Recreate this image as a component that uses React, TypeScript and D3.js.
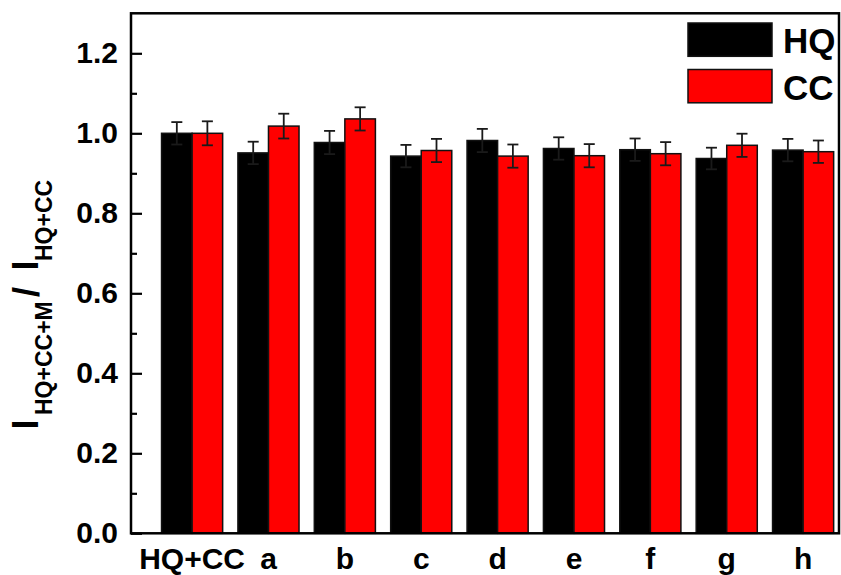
import React, { useEffect, useRef } from 'react';
import * as d3 from 'd3';

const categories = ['HQ+CC', 'a', 'b', 'c', 'd', 'e', 'f', 'g', 'h'];
const hqValues = [1.0, 0.951, 0.977, 0.943, 0.982, 0.962, 0.959, 0.937, 0.958];
const hqErrors = [0.028, 0.028, 0.029, 0.028, 0.029, 0.028, 0.028, 0.027, 0.028];
const ccValues = [1.0, 1.018, 1.036, 0.957, 0.943, 0.944, 0.949, 0.970, 0.954];
const ccErrors = [0.030, 0.031, 0.029, 0.029, 0.029, 0.029, 0.029, 0.029, 0.028];
const majorTicks = [0, 0.2, 0.4, 0.6, 0.8, 1.0, 1.2];
const minorTicks = [0.1, 0.3, 0.5, 0.7, 0.9, 1.1];

const series = [
    { name: 'HQ', values: hqValues, errors: hqErrors, color: '#000000', offset: -1 },
    { name: 'CC', values: ccValues, errors: ccErrors, color: '#ff0000', offset: 0 },
];

export default function App() {
    const svgRef = useRef<SVGSVGElement>(null);

    useEffect(() => {
        if (!svgRef.current) return;
        const svg = d3.select(svgRef.current);
        svg.selectAll('*').remove();

        const font = 'Arial, "Liberation Sans", sans-serif';
        const left = 131, right = 839, top = 13.3, bottom = 533.3;

        // category index -> px (Origin style, groups at 1..9)
        const x = d3.scaleLinear().domain([0.2, 9.47]).range([left, right]);
        const y = d3.scaleLinear().domain([0, 1.3]).range([bottom, top]);
        const barW = x(0.4) - x(0);

        // Bars
        series.forEach(s => {
            svg.append('g')
                .selectAll('rect')
                .data(s.values)
                .join('rect')
                .attr('x', (d, i) => x(i + 1) + s.offset * barW)
                .attr('y', d => y(d))
                .attr('width', barW)
                .attr('height', d => y(0) - y(d))
                .attr('fill', s.color)
                .attr('stroke', '#111')
                .attr('stroke-width', 1.5);
        });

        // Error bars
        series.forEach(s => {
            const g = svg.append('g').attr('stroke', '#1a1a1a').attr('stroke-width', 1.8);
            s.values.forEach((v, i) => {
                const cx = x(i + 1) + s.offset * barW + barW / 2;
                const e = s.errors[i];
                g.append('line').attr('x1', cx).attr('x2', cx).attr('y1', y(v - e)).attr('y2', y(v + e));
                [v - e, v + e].forEach(t => {
                    g.append('line').attr('x1', cx - 5.5).attr('x2', cx + 5.5).attr('y1', y(t)).attr('y2', y(t));
                });
            });
        });

        // Frame
        svg.append('rect')
            .attr('x', left).attr('y', top)
            .attr('width', right - left).attr('height', bottom - top)
            .attr('fill', 'none').attr('stroke', '#000').attr('stroke-width', 2.5);

        // Y axis, ticks pointing inward
        const yAxis = svg.append('g')
            .attr('transform', `translate(${left},0)`)
            .call(d3.axisLeft(y).tickValues(majorTicks).tickSize(-11).tickPadding(13).tickFormat(d3.format('.1f')));
        yAxis.select('.domain').remove();
        yAxis.selectAll('line').attr('stroke-width', 2.2);
        yAxis.selectAll('text')
            .attr('font-family', font).attr('font-size', 30).attr('font-weight', 'bold').attr('fill', '#000');

        const yMinor = svg.append('g')
            .attr('transform', `translate(${left},0)`)
            .call(d3.axisLeft(y).tickValues(minorTicks).tickSize(-6).tickFormat(() => ''));
        yMinor.select('.domain').remove();
        yMinor.selectAll('line').attr('stroke-width', 2.2);

        // X labels
        svg.append('g')
            .selectAll('text')
            .data(categories)
            .join('text')
            .attr('x', (d, i) => x(i + 1))
            .attr('y', 569)
            .attr('text-anchor', 'middle')
            .attr('font-family', font).attr('font-size', 30).attr('font-weight', 'bold')
            .text(d => d);

        // Y axis title: I_{HQ+CC+M} / I_{HQ+CC}
        const t = svg.append('g')
            .attr('transform', 'translate(38,300) rotate(-90)')
            .attr('font-family', font).attr('font-weight', 'bold');
        const pieces = [
            { txt: 'I', x: -129.5, y: 0, size: 36 },
            { txt: 'HQ+CC+M', x: -115, y: 14, size: 23 },
            { txt: '/', x: 3, y: 1, size: 36 },
            { txt: 'I', x: 29.5, y: 0, size: 36 },
            { txt: 'HQ+CC', x: 39, y: 14, size: 23 },
        ];
        pieces.forEach(p => {
            t.append('text').attr('x', p.x).attr('y', p.y).attr('font-size', p.size).text(p.txt);
        });

        // Legend
        const legend = svg.append('g').attr('transform', 'translate(688,23)');
        series.forEach((s, i) => {
            legend.append('rect')
                .attr('x', 0).attr('y', i * 46.5)
                .attr('width', 84).attr('height', 33.3)
                .attr('fill', s.color).attr('stroke', '#111').attr('stroke-width', 1.5);
            legend.append('text')
                .attr('x', 95).attr('y', i * 46.5 + 30)
                .attr('font-family', font).attr('font-size', 35).attr('font-weight', 'bold')
                .text(s.name);
        });
    }, []);

    return (
        <svg
            ref={svgRef}
            width={841}
            height={575}
            style={{ position: 'absolute', left: 0, top: 0, background: '#fff' }}
        />
    );
}
